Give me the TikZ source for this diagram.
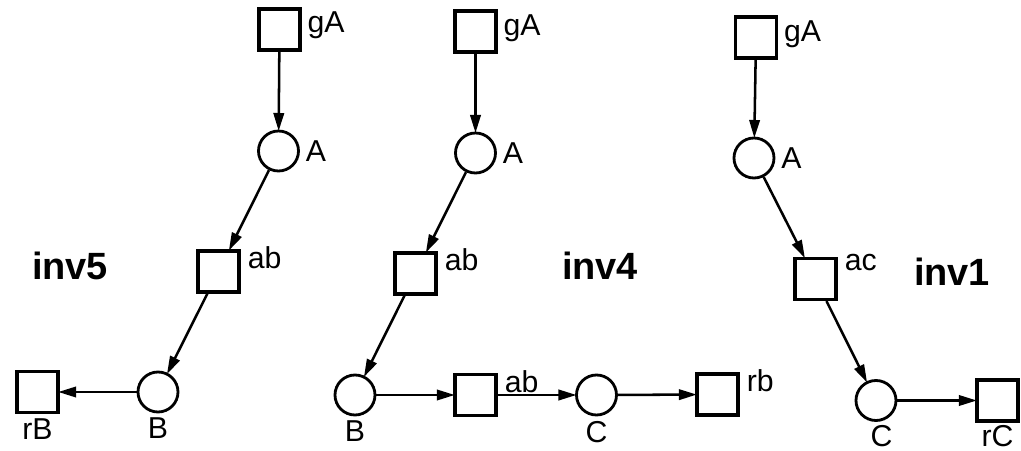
\documentclass[tikz,border=0pt]{standalone}
\usepackage{fontspec}
\setmainfont{Liberation Sans}
\usetikzlibrary{arrows.meta}
\begin{document}
\begin{tikzpicture}[x=0.025cm,y=-0.025cm,line width=2.4pt,
   trans/.style={draw,shape=rectangle,minimum size=1.02cm,inner sep=0pt},
   place/.style={draw,shape=circle,minimum size=1.0cm,inner sep=0pt,line width=2pt},
   link/.style={-{Triangle[length=0.45cm,width=0.26cm]},line width=1.8pt,shorten >=-1pt},
   every label/.style={font=\fontsize{21.5}{25}\selectfont,inner sep=3pt},
   title/.style={font=\bfseries\fontsize{27}{32}\selectfont}]
   \useasboundingbox (0,0) rectangle (1021,451);

     % inv5
     \path (279.5,29.5) node[trans,label={[yshift=3pt]right:gA}] (gA5) {};
     \path (278.5,151) node[place,label=right:A] (A5) {};
     \path (218.5,271.5) node[trans,label={[anchor=north west,xshift=1pt,yshift=6pt]north east:ab}] (ab5) {};
     \path (158,392) node[place,label={[yshift=1pt]below:B}] (B5) {};
     \path (37.5,392) node[trans,label={[yshift=1pt]below:rB}] (rB5) {};
     \path (70,266) node[title] (inv5) {inv5};

     \draw[link] (gA5) -- (A5);
     \draw[link] (A5) -- (ab5);
     \draw[link] (ab5) -- (B5);
     \draw[link] (B5) -- (rB5);

     % inv4
     \path (475.5,31.5) node[trans,label={[yshift=2pt]right:gA}] (gA4) {};
     \path (475.5,153) node[place,label=right:A] (A4) {};
     \path (415.5,273.5) node[trans,label={[anchor=north west,xshift=1pt,yshift=6pt]north east:ab}] (ab4) {};
     \path (355,395) node[place,label={[yshift=1pt]below:B}] (B4) {};
     \path (475.5,395) node[trans,label={[anchor=north west,xshift=1pt,yshift=6pt]north east:ab}] (abb4) {};
     \path (596.5,395) node[place,label={[yshift=1pt]below:C}] (C4) {};
     \path (717.5,394.5) node[trans,label={[anchor=north west,xshift=1pt,yshift=6pt]north east:rb}] (rb4) {};
     \path (600,266) node[title] (inv4) {inv4};

     \draw[link] (gA4) -- (A4);
     \draw[link] (A4) -- (ab4);
     \draw[link] (ab4) -- (B4);
     \draw[link] (B4) -- (abb4);
     \draw[link] (abb4) -- (C4);
     \draw[link] (C4) -- (rb4);

     % inv1
     \path (756,37.5) node[trans,label={[yshift=2pt]right:gA}] (gA1) {};
     \path (754,158) node[place,label=right:A] (A1) {};
     \path (815.5,279) node[trans,label={[anchor=north west,xshift=1pt,yshift=6pt]north east:ac}] (ac1) {};
     \path (876,400.5) node[place,label={[xshift=4pt,yshift=2pt]below:C}] (C1) {};
     \path (997.5,400.5) node[trans,label={[yshift=2pt]below:rC}] (rC1) {};
     \path (952,272) node[title] (inv1) {inv1};

     \draw[link] (gA1) -- (A1);
     \draw[link] (A1) -- (ac1);
     \draw[link] (ac1) -- (C1);
     \draw[link] (C1) -- (rC1);

\end{tikzpicture}
\end{document}
